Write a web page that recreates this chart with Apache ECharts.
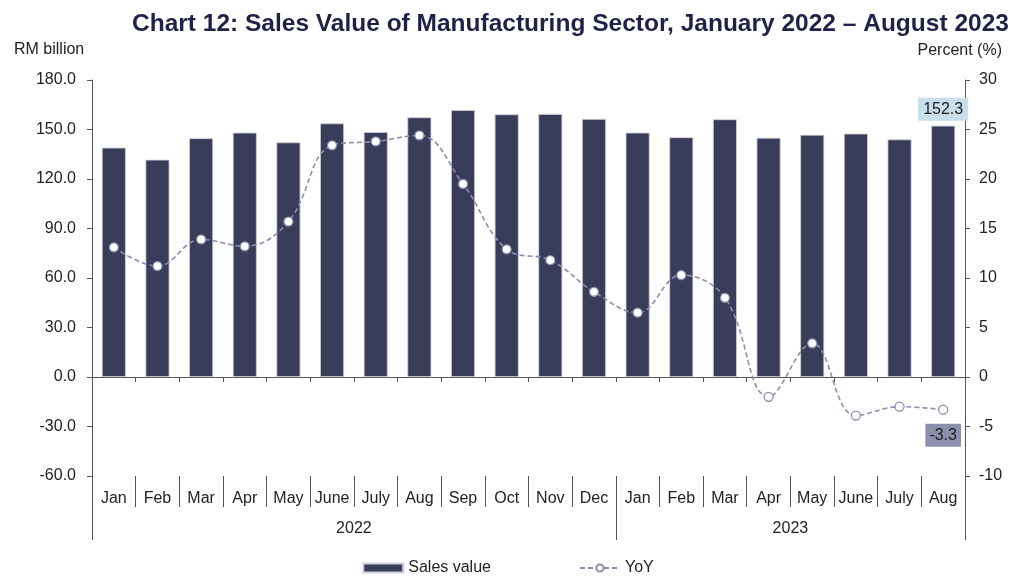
<!DOCTYPE html>
<html>
<head>
<meta charset="utf-8">
<script src="https://cdn.jsdelivr.net/npm/echarts@6/dist/echarts.min.js"></script>
<style>
html, body { margin: 0; padding: 0; background: #fff; }
#main { width: 1016px; height: 576px; }
</style>
</head>
<body>
<div id="main"></div>
<script>
// data
var months = ['Jan','Feb','Mar','Apr','May','June','July','Aug','Sep','Oct','Nov','Dec',
              'Jan','Feb','Mar','Apr','May','June','July','Aug'];
var years = ['2022', '2023'];
var yearSpans = [12, 8];
var salesValue = [139.0, 131.7, 144.7, 148.1, 142.2, 153.7, 148.5, 157.4, 161.8, 159.2,
                  159.4, 156.4, 148.1, 145.3, 156.2, 145.0, 146.8, 147.5, 144.0, 152.3];
var yoy = [13.1, 11.2, 13.9, 13.2, 15.7, 23.4, 23.8, 24.4, 19.5, 12.9,
           11.8, 8.6, 6.5, 10.3, 8.0, -2.0, 3.4, -3.9, -3.0, -3.3];
var leftTicks = [-60, 180, 30];
var rightTicks = [-10, 30, 5];

var myChart = echarts.init(document.getElementById('main'));

var barColor = '#3a3d59';
var lineColor = '#8a8db1';
var font = 'Liberation Sans, Arial, sans-serif';
var fs = 16;
var last = salesValue.length - 1;

// year boundaries and centres on a 0..n value axis
var yearEdges = [0], yearMids = [];
var acc = 0;
for (var i = 0; i < yearSpans.length; i++) {
    yearMids.push(acc + yearSpans[i] / 2);
    acc += yearSpans[i];
    yearEdges.push(acc);
}

var barData = salesValue.map(function (v, i) {
    if (i !== last) return v;
    return {
        value: v,
        label: {
            show: true, position: 'top', distance: 5,
            backgroundColor: '#c8deeb', padding: [4, 5, 3, 5],
            color: '#222', fontSize: fs, fontFamily: font,
            formatter: function (p) { return p.value.toFixed(1); }
        }
    };
});
var lineData = yoy.map(function (v, i) {
    if (i !== last) return v;
    return {
        value: v,
        label: {
            show: true, position: 'bottom', distance: 9,
            backgroundColor: '#8d8faf', padding: [4, 4, 3, 4],
            color: '#222', fontSize: fs, fontFamily: font,
            formatter: function (p) { return p.value.toFixed(1); }
        }
    };
});

var option = {
    animation: false,
    textStyle: { fontFamily: font },
    title: [
        {
            text: 'Chart 12: Sales Value of Manufacturing Sector, January 2022 \u2013 August 2023',
            left: 127, top: 7,
            textStyle: { fontSize: 24.5, fontWeight: 'bold', color: '#1f2246', fontFamily: font }
        },
        {
            text: 'RM billion', left: 9, top: 37,
            textStyle: { fontSize: fs, fontWeight: 'normal', color: '#222', fontFamily: font }
        },
        {
            text: 'Percent (%)', right: 9, top: 38,
            textStyle: { fontSize: fs, fontWeight: 'normal', color: '#222', fontFamily: font }
        }
    ],
    legend: {
        bottom: -5,
        left: 'center',
        itemGap: 88,
        itemWidth: 40,
        itemHeight: 9,
        textStyle: { fontSize: fs, color: '#222', fontFamily: font },
        data: [
            { name: 'Sales value', icon: 'rect' },
            { name: 'YoY' }
        ]
    },
    grid: { left: 92, right: 51, top: 80, bottom: 100 },
    xAxis: [
        {
            type: 'category',
            data: months,
            boundaryGap: true,
            axisLine: { onZero: true, onZeroAxisIndex: 0, lineStyle: { color: '#555', width: 1 } },
            axisTick: { show: true, length: 5, lineStyle: { color: '#555' } },
            axisLabel: { show: false }
        },
        {
            type: 'category',
            data: months,
            position: 'bottom',
            boundaryGap: true,
            axisLine: { show: false, onZero: false },
            axisTick: { show: true, length: 31, interval: 0, lineStyle: { color: '#555' } },
            axisLabel: { interval: 0, margin: 15, fontSize: fs, color: '#222', fontFamily: font }
        },
        {
            type: 'value',
            min: 0,
            max: months.length,
            position: 'bottom',
            axisLine: { show: false, onZero: false },
            splitLine: { show: false },
            axisTick: { show: true, length: 64, customValues: yearEdges, lineStyle: { color: '#555' } },
            axisLabel: {
                customValues: yearMids, margin: 45, fontSize: fs, color: '#222', fontFamily: font,
                formatter: function (v) { return years[yearMids.indexOf(v)]; }
            }
        }
    ],
    yAxis: [
        {
            type: 'value',
            min: leftTicks[0], max: leftTicks[1], interval: leftTicks[2],
            axisLine: { show: true, lineStyle: { color: '#555' } },
            axisTick: { show: true, length: 5, lineStyle: { color: '#555' } },
            splitLine: { show: false },
            axisLabel: {
                margin: 16, fontSize: fs, color: '#222', fontFamily: font,
                formatter: function (v) { return v.toFixed(1); }
            }
        },
        {
            type: 'value',
            min: rightTicks[0], max: rightTicks[1], interval: rightTicks[2],
            axisLine: { show: true, lineStyle: { color: '#555' } },
            axisTick: { show: true, length: 5, lineStyle: { color: '#555' } },
            splitLine: { show: false },
            axisLabel: { margin: 14, fontSize: fs, color: '#222', fontFamily: font }
        }
    ],
    series: [
        {
            name: 'Sales value',
            type: 'bar',
            xAxisIndex: 0,
            yAxisIndex: 0,
            barWidth: 24,
            itemStyle: { color: barColor, borderColor: '#cfd0da', borderWidth: 0.8 },
            data: barData
        },
        {
            name: 'YoY',
            type: 'line',
            xAxisIndex: 0,
            yAxisIndex: 1,
            smooth: 0.4,
            symbol: 'circle',
            symbolSize: 9,
            lineStyle: { color: lineColor, width: 1.6, type: [5, 3] },
            itemStyle: { color: '#fff', borderColor: lineColor, borderWidth: 1.3 },
            data: lineData,
            z: 3
        }
    ]
};

myChart.setOption(option);
</script>
</body>
</html>
